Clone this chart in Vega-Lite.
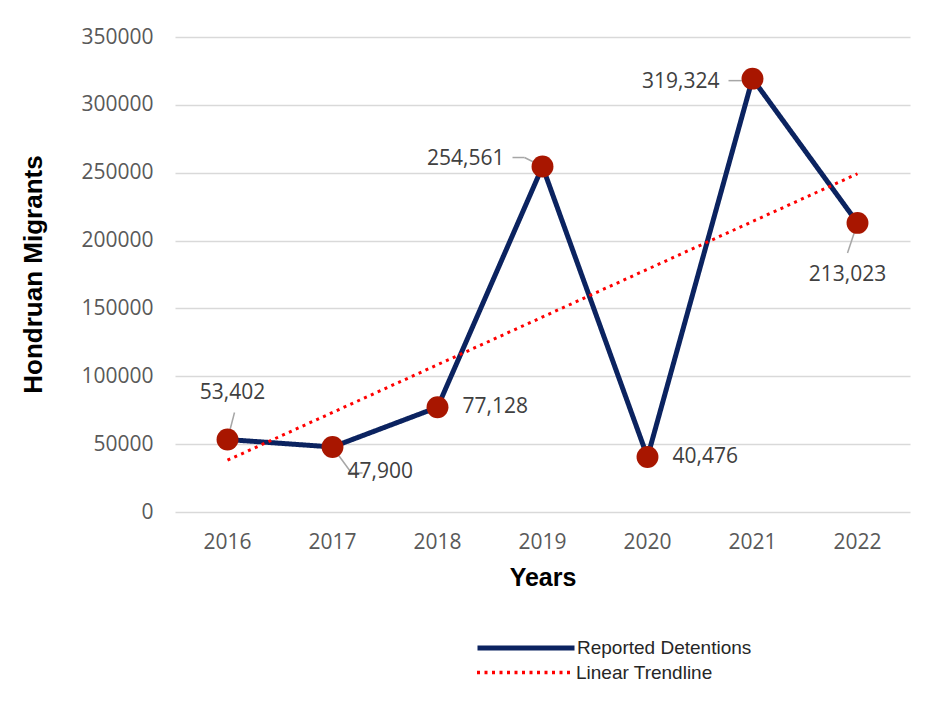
{
  "$schema": "https://vega.github.io/schema/vega-lite/v6.json",
  "width": 735,
  "height": 475,
  "autosize": "none",
  "padding": {"left": 175, "top": 37, "right": 15, "bottom": 203},
  "background": "white",
  "config": {
    "view": {"stroke": null},
    "font": "Open Sans"
  },
  "data": {
    "values": [
      {"year": "2016", "series": "Reported Detentions", "value": 53402},
      {"year": "2017", "series": "Reported Detentions", "value": 47900},
      {"year": "2018", "series": "Reported Detentions", "value": 77128},
      {"year": "2019", "series": "Reported Detentions", "value": 254561},
      {"year": "2020", "series": "Reported Detentions", "value": 40476},
      {"year": "2021", "series": "Reported Detentions", "value": 319324},
      {"year": "2022", "series": "Reported Detentions", "value": 213023},
      {"year": "2016", "series": "Linear Trendline", "value": 38150},
      {"year": "2022", "series": "Linear Trendline", "value": 249230}
    ]
  },
  "encoding": {
    "x": {
      "field": "year", "type": "ordinal",
      "scale": {"type": "band", "paddingInner": 0, "paddingOuter": 0, "domain": ["2016","2017","2018","2019","2020","2021","2022"]},
      "axis": {
        "title": "Years", "titleFont": "Liberation Sans", "titleFontSize": 25, "titleFontWeight": "bold", "titleColor": "#000000",
        "titlePadding": 13,
        "labelAngle": 0, "labelFontSize": 21, "labelColor": "#595959", "labelPadding": 19,
        "ticks": false, "domain": false, "grid": false
      }
    },
    "y": {
      "field": "value", "type": "quantitative",
      "scale": {"domain": [0, 350000], "nice": false},
      "axis": {
        "title": "Hondruan Migrants", "titleFont": "Liberation Sans", "titleFontSize": 26, "titleFontWeight": "bold", "titleColor": "#000000",
        "titleAngle": -90, "titleX": -142, "titleY": 237, "titleBaseline": "middle", "titleAlign": "center",
        "values": [0, 50000, 100000, 150000, 200000, 250000, 300000, 350000],
        "format": "d",
        "labelFontSize": 21, "labelColor": "#595959", "labelPadding": 22,
        "ticks": false, "domain": false,
        "grid": true, "gridColor": "#d9d9d9", "gridWidth": 1.5
      }
    }
  },
  "layer": [
    {
      "mark": {"type": "line", "strokeCap": "butt"},
      "encoding": {
        "color": {
          "field": "series", "type": "nominal",
          "scale": {"domain": ["Reported Detentions", "Linear Trendline"], "range": ["#0b2360", "#ff0000"]},
          "legend": {
            "title": null, "orient": "none", "legendX": 300, "legendY": 560,
            "values": ["Reported Detentions"],
            "symbolType": "stroke", "symbolSize": 9409, "symbolStrokeWidth": 5,
            "labelFont": "Liberation Sans", "labelFontSize": 19, "labelColor": "#262626", "labelOffset": 0, "labelLimit": 400,
            "padding": 0
          }
        },
        "strokeDash": {
          "field": "series", "type": "nominal",
          "scale": {"domain": ["Linear Trendline", "Reported Detentions"], "range": [[3, 4.5], [1, 0]]},
          "legend": {
            "title": null, "orient": "none", "legendX": 300, "legendY": 585,
            "values": ["Linear Trendline"],
            "symbolType": "stroke", "symbolSize": 9409, "symbolStrokeWidth": 3.5, "symbolStrokeColor": "#ff0000",
            "labelFont": "Liberation Sans", "labelFontSize": 19, "labelColor": "#262626", "labelOffset": 0, "labelLimit": 400,
            "padding": 0
          }
        },
        "strokeWidth": {
          "field": "series", "type": "nominal",
          "scale": {"domain": ["Reported Detentions", "Linear Trendline"], "range": [5, 3]},
          "legend": null
        }
      }
    },
    {
      "transform": [{"filter": "datum.series === 'Reported Detentions' && datum.year === '2016'"}],
      "mark": {"type": "rule", "color": "#a6a6a6", "strokeWidth": 1.5, "x2Offset": 7, "y2Offset": -27},
      "encoding": {"x2": {"field": "year"}, "y2": {"field": "value"}}
    },
    {
      "transform": [{"filter": "datum.series === 'Reported Detentions' && datum.year === '2017'"}],
      "mark": {"type": "rule", "color": "#a6a6a6", "strokeWidth": 1.5, "x2Offset": 19, "y2Offset": 26},
      "encoding": {"x2": {"field": "year"}, "y2": {"field": "value"}}
    },
    {
      "transform": [{"filter": "datum.series === 'Reported Detentions' && datum.year === '2017'"}],
      "mark": {"type": "rule", "color": "#a6a6a6", "strokeWidth": 1.5, "xOffset": 19, "yOffset": 26, "x2Offset": 30, "y2Offset": 26},
      "encoding": {"x2": {"field": "year"}, "y2": {"field": "value"}}
    },
    {
      "transform": [{"filter": "datum.series === 'Reported Detentions' && datum.year === '2019'"}],
      "mark": {"type": "rule", "color": "#a6a6a6", "strokeWidth": 1.5, "x2Offset": -18, "y2Offset": -9},
      "encoding": {"x2": {"field": "year"}, "y2": {"field": "value"}}
    },
    {
      "transform": [{"filter": "datum.series === 'Reported Detentions' && datum.year === '2019'"}],
      "mark": {"type": "rule", "color": "#a6a6a6", "strokeWidth": 1.5, "xOffset": -18, "yOffset": -9, "x2Offset": -30, "y2Offset": -9},
      "encoding": {"x2": {"field": "year"}, "y2": {"field": "value"}}
    },
    {
      "transform": [{"filter": "datum.series === 'Reported Detentions' && datum.year === '2021'"}],
      "mark": {"type": "rule", "color": "#a6a6a6", "strokeWidth": 1.5, "x2Offset": -11, "y2Offset": 2},
      "encoding": {"x2": {"field": "year"}, "y2": {"field": "value"}}
    },
    {
      "transform": [{"filter": "datum.series === 'Reported Detentions' && datum.year === '2021'"}],
      "mark": {"type": "rule", "color": "#a6a6a6", "strokeWidth": 1.5, "xOffset": -11, "yOffset": 2, "x2Offset": -24, "y2Offset": 2},
      "encoding": {"x2": {"field": "year"}, "y2": {"field": "value"}}
    },
    {
      "transform": [{"filter": "datum.series === 'Reported Detentions' && datum.year === '2022'"}],
      "mark": {"type": "rule", "color": "#a6a6a6", "strokeWidth": 1.5, "x2Offset": -10, "y2Offset": 30},
      "encoding": {"x2": {"field": "year"}, "y2": {"field": "value"}}
    },
    {
      "transform": [{"filter": "datum.series === 'Reported Detentions'"}],
      "mark": {"type": "point", "filled": true, "size": 480, "color": "#a81600", "opacity": 1}
    },
    {
      "transform": [{"filter": "datum.year === '2016' && datum.series === 'Reported Detentions'"}],
      "mark": {"type": "text", "fontSize": 21, "color": "#404040", "align": "center", "dx": 5, "dy": -47},
      "encoding": {"text": {"field": "value", "type": "quantitative", "format": ","}}
    },
    {
      "transform": [{"filter": "datum.year === '2017' && datum.series === 'Reported Detentions'"}],
      "mark": {"type": "text", "fontSize": 21, "color": "#404040", "align": "left", "dx": 15, "dy": 25},
      "encoding": {"text": {"field": "value", "type": "quantitative", "format": ","}}
    },
    {
      "transform": [{"filter": "(datum.year === '2018' || datum.year === '2020') && datum.series === 'Reported Detentions'"}],
      "mark": {"type": "text", "fontSize": 21, "color": "#404040", "align": "left", "dx": 25, "dy": 0},
      "encoding": {"text": {"field": "value", "type": "quantitative", "format": ","}}
    },
    {
      "transform": [{"filter": "datum.year === '2019' && datum.series === 'Reported Detentions'"}],
      "mark": {"type": "text", "fontSize": 21, "color": "#404040", "align": "right", "dx": -38, "dy": -8},
      "encoding": {"text": {"field": "value", "type": "quantitative", "format": ","}}
    },
    {
      "transform": [{"filter": "datum.year === '2021' && datum.series === 'Reported Detentions'"}],
      "mark": {"type": "text", "fontSize": 21, "color": "#404040", "align": "right", "dx": -33, "dy": 3},
      "encoding": {"text": {"field": "value", "type": "quantitative", "format": ","}}
    },
    {
      "transform": [{"filter": "datum.year === '2022' && datum.series === 'Reported Detentions'"}],
      "mark": {"type": "text", "fontSize": 21, "color": "#404040", "align": "center", "dx": -10, "dy": 52},
      "encoding": {"text": {"field": "value", "type": "quantitative", "format": ","}}
    }
  ]
}
